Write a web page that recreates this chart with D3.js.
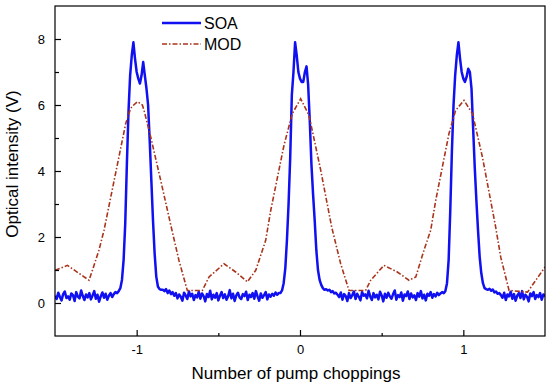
<!DOCTYPE html>
<style>
body {
  margin: 0;
  background: #fff;
}
svg {
  font-family: Arial, "Liberation Sans", sans-serif;
}
.frame {
  fill: none;
  stroke: #000;
  stroke-width: 1.2;
}
.axis text {
  font-size: 13px;
  fill: #000;
}
.axis line {
  stroke: #000;
  stroke-width: 1.2;
}
.soa {
  fill: none;
  stroke: #1010f0;
  stroke-width: 2.5;
  stroke-linejoin: round;
}
.mod {
  fill: none;
  stroke: #a8341c;
  stroke-width: 1.6;
  stroke-dasharray: 5 2 1.5 2;
}
.title {
  font-size: 17px;
  fill: #000;
}
.legendText {
  font-size: 16px;
  fill: #000;
}
</style>
<svg width="550" height="390" viewBox="0 0 550 390"></svg>
<script src="https://d3js.org/d3.v7.min.js"></script>
<script>

// SOA trace, sampled every 0.01 pump chopping from -1.5
var soaStart = -1.5,
    soaStep = 0.01;

var soaValues = [
  // baseline -1.50 .. -1.13
  0.22,0.12,0.31,0.18,0.08,0.27,0.35,0.15,0.2,0.1,
  0.29,0.24,0.06,0.33,0.19,0.14,0.38,0.21,0.09,0.26,
  0.17,0.3,0.11,0.23,0.36,0.13,0.25,0.04,0.2,0.32,
  0.16,0.28,0.1,0.22,0.3,0.18,0.27,0.33,
  // pulse at -1 (-1.12 .. -0.85)
  0.3,0.36,0.45,0.7,1.3,2.4,4.2,5.8,6.9,7.5,
  7.9,7.4,7.0,6.8,6.65,6.9,7.3,6.9,6.5,6.0,
  4.9,3.7,2.5,1.5,0.8,0.5,0.42,0.4,
  // baseline -0.84 .. -0.13
  0.4,0.36,0.42,0.3,0.38,0.27,0.33,0.22,
  0.3,0.14,0.26,0.19,0.07,0.31,0.23,0.12,0.35,0.2,
  0.28,0.09,0.24,0.17,0.34,0.13,0.29,0.21,0.05,0.27,
  0.18,0.37,0.11,0.25,0.16,0.3,0.08,0.22,0.33,0.15,
  0.26,0.1,0.2,0.39,0.14,0.28,0.06,0.23,0.31,0.17,
  0.12,0.27,0.21,0.34,0.09,0.25,0.18,0.3,0.13,0.36,
  0.2,0.07,0.29,0.16,0.24,0.33,0.11,0.26,0.19,0.28,
  0.22,0.32,0.25,0.3,
  // pulse at 0 (-0.12 .. 0.15)
  0.3,0.38,0.6,1.05,1.9,3.0,4.4,6.3,7.0,7.9,
  7.5,7.0,6.8,6.7,6.7,7.0,7.17,6.6,5.5,4.2,
  3.3,2.5,1.6,1.0,0.7,0.55,0.45,0.4,
  // baseline 0.16 .. 0.87
  0.42,0.38,0.4,0.33,0.36,0.29,0.31,0.25,
  0.18,0.32,0.1,0.27,0.21,0.06,0.3,0.15,0.24,0.35,
  0.12,0.28,0.19,0.08,0.33,0.22,0.26,0.14,0.37,0.2,
  0.09,0.3,0.17,0.25,0.11,0.34,0.23,0.05,0.28,0.16,
  0.31,0.2,0.13,0.27,0.38,0.1,0.24,0.18,0.32,0.07,
  0.26,0.21,0.35,0.12,0.29,0.17,0.23,0.09,0.3,0.19,
  0.36,0.14,0.25,0.08,0.28,0.22,0.33,0.16,0.27,0.2,
  0.31,0.24,0.29,0.33,
  // pulse at 1 (0.88 .. 1.15)
  0.3,0.36,0.6,1.3,2.8,4.6,6.0,6.9,7.5,7.9,
  7.4,7.0,6.8,6.7,6.85,7.1,7.0,6.5,5.3,4.1,
  3.1,2.2,1.4,0.9,0.6,0.45,0.42,0.4,
  // baseline 1.16 .. 1.50
  0.43,0.37,0.41,0.32,0.35,0.28,0.3,0.24,
  0.16,0.31,0.09,0.26,0.2,0.34,0.13,0.27,0.07,0.22,
  0.3,0.15,0.36,0.11,0.25,0.19,0.05,0.29,0.21,0.33,
  0.12,0.24,0.18,0.3,0.1,0.26,0.2
];

// MOD trace, read at its corners
var modX = [
  -1.5, -1.424, -1.292, -1.271, -1.231, -1.2, -1.159, -1.067, -1.037, -1.018,
  -0.994, -0.965, -0.955, -0.914, -0.853, -0.793, -0.741, -0.69, -0.598, -0.557,
  -0.465, -0.394, -0.322, -0.271, -0.21, -0.179, -0.098, -0.047, 0.004, 0.055,
  0.127, 0.194, 0.249, 0.3, 0.402, 0.433, 0.514, 0.596, 0.667, 0.709,
  0.759, 0.8, 0.831, 0.912, 0.953, 1.004, 1.056, 1.117, 1.198, 1.229,
  1.28, 1.393, 1.5
];
var modY = [
  0.99, 1.14, 0.69, 0.99, 1.6, 2.2, 3.2, 5.44, 5.9, 6.0,
  6.1, 6.0, 5.84, 5.03, 3.72, 2.4, 1.29, 0.38, 0.38, 0.79,
  1.19, 0.94, 0.64, 0.99, 1.9, 2.81, 4.78, 5.74, 6.19, 5.69,
  4.02, 2.3, 1.19, 0.38, 0.38, 0.69, 1.14, 0.94, 0.69, 0.79,
  1.6, 2.2, 3.11, 5.13, 5.84, 6.14, 5.74, 4.42, 2.3, 1.39,
  0.38, 0.33, 1.09
];

var xMajor = [-1, 0, 1],
    xMinor = [-0.5, 0.5],
    yMajor = [0, 2, 4, 6, 8],
    yMinor = [1, 3, 5, 7];

var legendNames = ["SOA", "MOD"];

var svg = d3.select("svg"),
    plot = { left: 55, right: 545, top: 6, bottom: 336 };

var x = d3.scaleLinear().domain([-1.5, 1.5]).range([plot.left, plot.right]),
    y = d3.scaleLinear().domain([-1, 9]).range([plot.bottom, plot.top]);

var soa = soaValues.map((v, i) => ({ x: soaStart + i * soaStep, y: v })),
    mod = modX.map((v, i) => ({ x: v, y: modY[i] }));

var line = d3.line().x(d => x(d.x)).y(d => y(d.y));

svg.append("clipPath")
    .attr("id", "clip")
  .append("rect")
    .attr("x", plot.left)
    .attr("y", plot.top)
    .attr("width", plot.right - plot.left)
    .attr("height", plot.bottom - plot.top);

var lines = svg.append("g").attr("clip-path", "url(#clip)");

lines.append("path")
    .datum(soa)
    .attr("class", "soa")
    .attr("d", line);

lines.append("path")
    .datum(mod)
    .attr("class", "mod")
    .attr("d", line);

// axes with ticks pointing into the plot
drawAxis(d3.axisBottom(x).tickValues(xMajor).tickSize(-6).tickPadding(9)
    .tickFormat(d => String(d)), "translate(0," + plot.bottom + ")");
drawAxis(d3.axisBottom(x).tickValues(xMinor).tickSize(-3).tickFormat(""),
    "translate(0," + plot.bottom + ")");
drawAxis(d3.axisLeft(y).tickValues(yMajor).tickSize(-6).tickPadding(10)
    .tickFormat(d => String(d)), "translate(" + plot.left + ",0)");
drawAxis(d3.axisLeft(y).tickValues(yMinor).tickSize(-4).tickFormat(""),
    "translate(" + plot.left + ",0)");

svg.append("rect")
    .attr("class", "frame")
    .attr("x", plot.left)
    .attr("y", plot.top)
    .attr("width", plot.right - plot.left)
    .attr("height", plot.bottom - plot.top);

svg.append("text")
    .attr("class", "title")
    .attr("x", 296)
    .attr("y", 379)
    .attr("text-anchor", "middle")
    .text("Number of pump choppings");

svg.append("text")
    .attr("class", "title")
    .attr("transform", "translate(18,164) rotate(-90)")
    .attr("text-anchor", "middle")
    .text("Optical intensity (V)");

// legend
var legend = svg.append("g")
  .selectAll("g")
  .data(legendNames)
  .join("g")
    .attr("transform", (d, i) => "translate(162," + (23 + i * 21) + ")");

legend.append("line")
    .attr("class", d => d.toLowerCase())
    .attr("x1", 0)
    .attr("x2", 39)
    .attr("y1", 0)
    .attr("y2", 0);

legend.append("text")
    .attr("class", "legendText")
    .attr("x", 42)
    .attr("y", 6)
    .text(d => d);

function drawAxis(axis, transform) {
  var g = svg.append("g")
      .attr("class", "axis")
      .attr("transform", transform)
      .call(axis);
  g.select(".domain").remove();
  return g;
}
</script>
